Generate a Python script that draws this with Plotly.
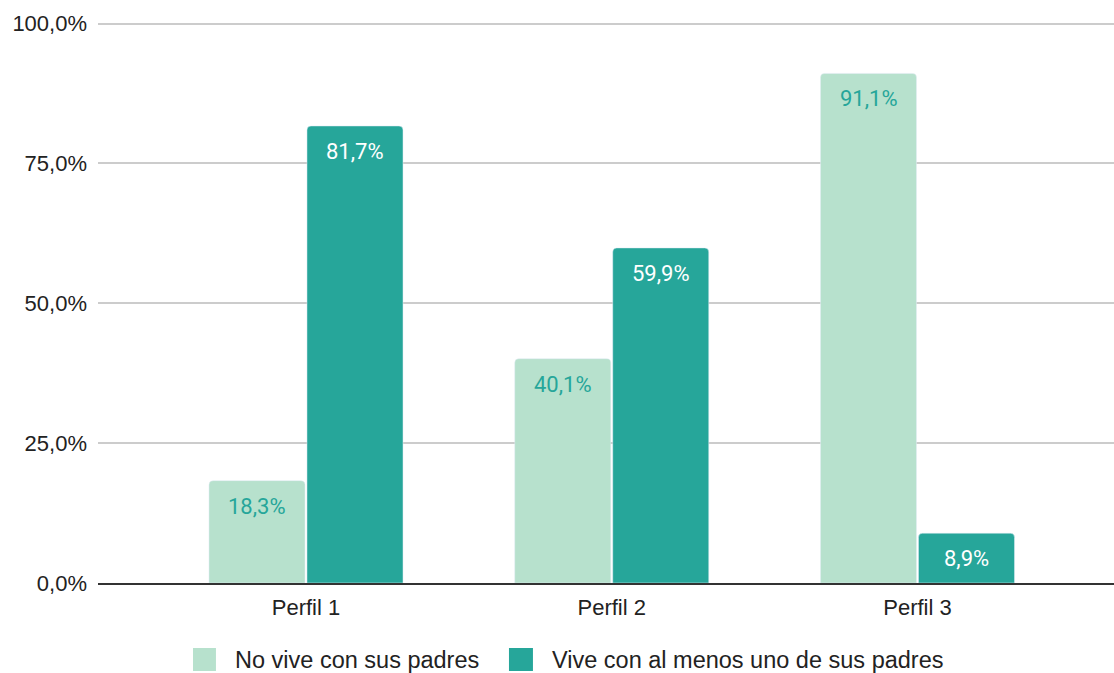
import plotly.graph_objects as go

categories = ["Perfil 1", "Perfil 2", "Perfil 3"]
series_names = ["No vive con sus padres", "Vive con al menos uno de sus padres"]
no_vive = [18.3, 40.1, 91.1]
vive = [81.7, 59.9, 8.9]
y_ticks = [0, 25, 50, 75, 100]
y_tick_labels = ["0,0%", "25,0%", "50,0%", "75,0%", "100,0%"]

light = "#b7e1cd"
dark = "#26a69a"

def fmt(v):
    return f"{v:.1f}".replace(".", ",") + "%"

fig = go.Figure()
fig.add_trace(go.Bar(
    x=categories, y=no_vive, name=series_names[0],
    marker=dict(color=light), showlegend=False, hoverinfo="skip",
))
fig.add_trace(go.Bar(
    x=categories, y=vive, name=series_names[1],
    marker=dict(color=dark), showlegend=False, hoverinfo="skip",
))

annotations = []
# data labels placed just inside the top of each bar
for vals, shift, col in ((no_vive, -49, dark), (vive, 49, "#ffffff")):
    for c, v in zip(categories, vals):
        annotations.append(dict(x=c, y=v, xref="x", yref="y", xshift=shift, yshift=-11,
                                yanchor="top", xanchor="center", showarrow=False, text=fmt(v),
                                font=dict(family="Roboto", size=22, color=col)))

# manual legend (large swatches like the reference)
# paper coords relative to plot area (top at 18px, bottom at 583px)
ph = 565.0
legend_y0, legend_y1 = (583 - 648) / ph, (583 - 671) / ph
legend_items = [
    (0.0935, 0.1161, 0.1329, light, series_names[0]),
    (0.4045, 0.4281, 0.4449, dark, series_names[1]),
]
shapes = []
for x0, x1, xt, col, label in legend_items:
    shapes.append(dict(type="rect", xref="paper", yref="paper", x0=x0, x1=x1,
                       y0=legend_y1, y1=legend_y0, fillcolor=col, line=dict(width=0)))
    annotations.append(dict(xref="paper", yref="paper", x=xt, y=(legend_y0 + legend_y1) / 2,
                            xanchor="left", yanchor="middle", showarrow=False, text=label,
                            font=dict(family="Arial, Liberation Sans", size=23.5, color="#222222")))

fig.update_layout(
    width=1114, height=673,
    margin=dict(l=98, r=0, t=18, b=90),
    paper_bgcolor="white", plot_bgcolor="white",
    barmode="group", bargap=0.359, bargroupgap=0.02, barcornerradius=4,
    font=dict(family="Arial, Liberation Sans", size=22, color="#222222"),
    shapes=shapes, annotations=annotations,
    xaxis=dict(
        range=[-0.6803, 2.6427], showgrid=False, showline=True,
        linecolor="#333333", linewidth=2, ticks="",
        tickfont=dict(family="Arial, Liberation Sans", size=22, color="#222222"),
        ticklabelstandoff=4, fixedrange=True,
    ),
    yaxis=dict(
        range=[0, 101], tickvals=y_ticks, ticktext=y_tick_labels,
        showgrid=True, gridcolor="#cccccc", gridwidth=1.5,
        zeroline=False, showline=False, ticks="",
        ticklabelstandoff=10, fixedrange=True,
        tickfont=dict(family="Arial, Liberation Sans", size=22, color="#222222"),
    ),
)

fig.write_html("out.html", config={"displayModeBar": False},
               post_script="document.body.style.margin='0';document.body.style.overflow='hidden';")
